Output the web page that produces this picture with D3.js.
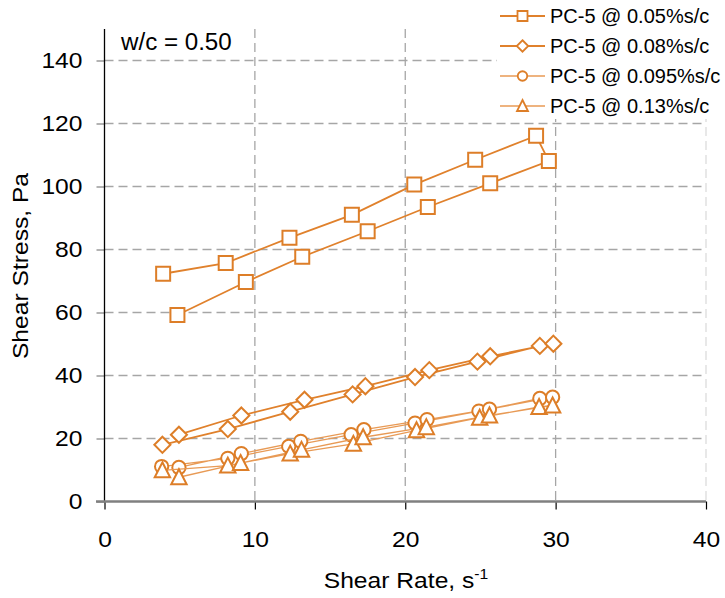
<!DOCTYPE html>
<html>
<head>
<meta charset="utf-8">
<script src="https://cdn.jsdelivr.net/npm/d3@7/dist/d3.min.js"></script>
<style>
  html, body { margin: 0; padding: 0; background: #fff; }
  svg { display: block; font-family: "Liberation Sans", Arial, sans-serif; }
</style>
</head>
<body>
<svg id="chart" width="725" height="598"></svg>
<script>
// Shear rate (s^-1) and shear stress (Pa): ramp up, then ramp down
const rate005 = [3.9, 8.06, 12.3, 16.45, 20.6, 24.65, 28.7, 29.55, 25.65, 21.5, 17.5, 13.15, 9.4, 4.85];
const stress005 = [72.3, 75.7, 83.7, 91.0, 100.6, 108.5, 116.1, 108.1, 101.0, 93.5, 85.8, 77.7, 69.7, 59.2];

const rate008 = [3.85, 8.2, 12.35, 16.5, 20.65, 24.8, 28.95, 29.85, 25.65, 21.6, 17.35, 13.3, 9.1, 4.95];
const stress008 = [18.0, 23.0, 28.5, 34.0, 39.5, 44.4, 49.4, 50.1, 46.1, 41.7, 36.6, 32.3, 27.3, 21.2];

const rate0095 = [3.8, 8.2, 12.25, 16.4, 20.65, 24.9, 28.95, 29.8, 25.6, 21.45, 17.25, 13.05, 9.1, 4.95];
const stress0095 = [11.1, 13.7, 17.5, 21.2, 24.9, 28.7, 32.7, 33.1, 29.3, 26.0, 22.8, 19.1, 15.2, 10.8];

const rate013 = [3.85, 8.2, 12.35, 16.55, 20.75, 24.95, 28.9, 29.8, 25.6, 21.4, 17.2, 13.1, 9.05, 4.95];
const stress013 = [9.9, 11.4, 15.2, 18.3, 22.6, 26.6, 30.0, 30.5, 27.3, 23.6, 20.4, 16.4, 12.2, 7.7];

const seriesNames = ["PC-5 @ 0.05%s/c", "PC-5 @ 0.08%s/c", "PC-5 @ 0.095%s/c", "PC-5 @ 0.13%s/c"];
const seriesShapes = ["square", "diamond", "circle", "triangle"];

const xTicks = [0, 10, 20, 30, 40];
const yTicks = [0, 20, 40, 60, 80, 100, 120, 140];

const series = [
  { name: seriesNames[0], shape: seriesShapes[0], xs: rate005, ys: stress005, line: "#E0812C", lw: 1.8 },
  { name: seriesNames[1], shape: seriesShapes[1], xs: rate008, ys: stress008, line: "#E0812C", lw: 1.8 },
  { name: seriesNames[2], shape: seriesShapes[2], xs: rate0095, ys: stress0095, line: "#E89A55", lw: 1.3 },
  { name: seriesNames[3], shape: seriesShapes[3], xs: rate013, ys: stress013, line: "#E89A55", lw: 1.3 }
];

const markerStroke = "#DD7E28";
const stretch = 1.12; // horizontal widening of axis text

const svg = d3.select("#chart");

const x = d3.scaleLinear().domain([0, 40]).range([104.5, 706]);
const y = d3.scaleLinear().domain([0, 150]).range([501.5, 29]);

// marker outline centred on the origin
function markerPath(shape, s) {
  const h = s / 2;
  if (shape === "square") return `M${-h},${-h}H${h}V${h}H${-h}Z`;
  if (shape === "diamond") { const d = h * 1.15; return `M0,${-d}L${d},0L0,${d}L${-d},0Z`; }
  if (shape === "circle") { const r = h * 0.95; return `M${r},0A${r},${r} 0 1,1 ${-r},0A${r},${r} 0 1,1 ${r},0Z`; }
  // triangle
  const w = h * 1.1, t = h * 1.0;
  return `M0,${-t - 1}L${w},${t}L${-w},${t}Z`;
}

// grid
const grid = svg.append("g");
grid.selectAll("line.h").data(yTicks.filter(v => v > 0)).join("line")
  .attr("x1", x(0)).attr("x2", x(40))
  .attr("y1", d => y(d)).attr("y2", d => y(d))
  .attr("stroke", "#A6A6A6").attr("stroke-width", 1.3).attr("stroke-dasharray", "9,5");
grid.selectAll("line.v").data(xTicks.filter(v => v > 0)).join("line")
  .attr("x1", d => x(d)).attr("x2", d => x(d))
  .attr("y1", y(150)).attr("y2", y(0))
  .attr("stroke", d => d === 40 ? "#DCDCDC" : "#A6A6A6")
  .attr("stroke-width", 1.3).attr("stroke-dasharray", "9,5");

// axes
const yAxis = svg.append("g").attr("transform", `translate(${x(0)},0)`)
  .call(d3.axisLeft(y).tickValues(yTicks).tickSize(8).tickPadding(14).tickFormat(d3.format("d")));
yAxis.select(".domain").remove();
yAxis.selectAll(".tick line").attr("stroke", "#808080").attr("stroke-width", 1.2);
yAxis.selectAll(".tick text").attr("font-size", 22).attr("fill", "#000")
  .attr("font-family", "Liberation Sans, Arial, sans-serif")
  .attr("x", -22 / stretch).attr("transform", `scale(${stretch},1)`);

const xAxis = svg.append("g").attr("transform", `translate(0,${y(0)})`)
  .call(d3.axisBottom(x).tickValues(xTicks).tickSize(8).tickPadding(22).tickFormat(d3.format("d")));
xAxis.select(".domain").remove();
xAxis.selectAll(".tick line").attr("stroke", "#000").attr("stroke-width", 1.2);
xAxis.selectAll(".tick text").attr("font-size", 22).attr("fill", "#000")
  .attr("font-family", "Liberation Sans, Arial, sans-serif")
  .attr("transform", `scale(${stretch},1)`);

svg.append("line").attr("x1", x(0)).attr("x2", x(0)).attr("y1", y(150)).attr("y2", y(0))
  .attr("stroke", "#000").attr("stroke-width", 1.3);
svg.append("line").attr("x1", 96).attr("x2", x(40)).attr("y1", y(0)).attr("y2", y(0))
  .attr("stroke", "#808080").attr("stroke-width", 2.4);

// data
const plot = svg.append("g");
const line = d3.line().x(d => x(d[0])).y(d => y(d[1]));
series.forEach(s => {
  const pts = s.xs.map((v, i) => [v, s.ys[i]]);
  const g = plot.append("g");
  g.append("path").attr("d", line(pts)).attr("fill", "none")
    .attr("stroke", s.line).attr("stroke-width", s.lw);
  g.selectAll("path.m").data(pts).join("path").attr("class", "m")
    .attr("transform", d => `translate(${x(d[0])},${y(d[1])})`)
    .attr("d", markerPath(s.shape, 14))
    .attr("fill", "#fff").attr("stroke", markerStroke).attr("stroke-width", 2);
});

// legend
const legend = svg.append("g");
legend.append("rect").attr("x", 497).attr("y", 0).attr("width", 228).attr("height", 119).attr("fill", "#fff");
series.forEach((s, i) => {
  const cy = 16 + i * 30;
  legend.append("line").attr("x1", 500).attr("x2", 545).attr("y1", cy).attr("y2", cy)
    .attr("stroke", s.line).attr("stroke-width", s.lw);
  legend.append("path").attr("transform", `translate(522.5,${cy})`)
    .attr("d", markerPath(s.shape, 10)).attr("fill", "#fff")
    .attr("stroke", markerStroke).attr("stroke-width", 1.8);
  legend.append("text").attr("x", 550).attr("y", cy).attr("dy", "0.36em")
    .attr("font-size", 20).attr("fill", "#000").text(s.name);
});

// annotation and titles
svg.append("text").attr("transform", "translate(121,50) scale(1.05,1)")
  .attr("font-size", 23).attr("fill", "#000").text("w/c = 0.50");

const xt = svg.append("text").attr("transform", `translate(406,588) scale(${stretch},1)`)
  .attr("text-anchor", "middle").attr("font-size", 22).attr("fill", "#000");
xt.append("tspan").text("Shear Rate, s");
xt.append("tspan").attr("dy", -9).attr("font-size", 14).text("-1");

svg.append("text").attr("transform", `translate(28,266) rotate(-90) scale(${stretch},1)`)
  .attr("text-anchor", "middle").attr("font-size", 22).attr("fill", "#000").text("Shear Stress, Pa");
</script>
</body>
</html>
